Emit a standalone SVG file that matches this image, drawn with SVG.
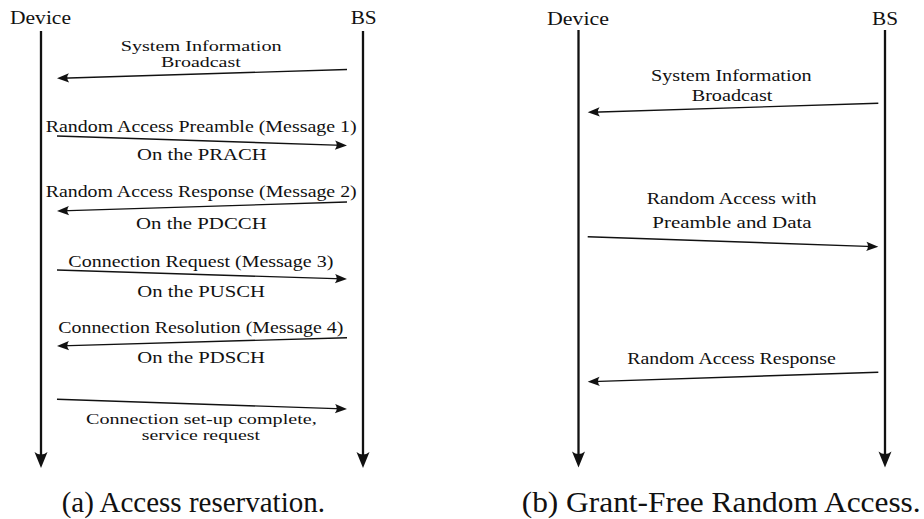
<svg xmlns="http://www.w3.org/2000/svg" width="924" height="519" viewBox="0 0 924 519">
  <defs>
    <style>
      text { font-family: "Liberation Serif", "Times New Roman", serif; fill: #111; }
      .actor { font-size: 19.5px; }
      .msg { font-size: 17px; }
      .msg2 { font-size: 14.3px; }
      .cap { font-size: 29px; }
      .life { stroke: #111; stroke-width: 2.3; fill: none; marker-end: url(#lifeHead); }
      .arrow { stroke: #111; stroke-width: 1.4; fill: none; marker-end: url(#msgHead); }
    </style>
    <!-- concave stealth-style heads; tip sits a few px beyond the path end -->
    <marker id="msgHead" markerUnits="userSpaceOnUse" viewBox="-14 -6 16 12" markerWidth="16" markerHeight="12" refX="-4" refY="0" orient="auto" overflow="visible">
      <path d="M0,0 L-12,-4.6 Q-8.5,0 -12,4.6 Z" fill="#111"/>
    </marker>
    <marker id="lifeHead" markerUnits="userSpaceOnUse" viewBox="-18 -8 20 16" markerWidth="20" markerHeight="16" refX="-6" refY="0" orient="auto" overflow="visible">
      <path d="M0,0 L-16,-6.5 Q-11,0 -16,6.5 Z" fill="#111"/>
    </marker>
  </defs>

  <rect width="924" height="519" fill="#fff"/>

  <!-- (a) four-step access reservation -->
  <g id="a-device">
    <text class="actor" x="10" y="23.5" textLength="61" lengthAdjust="spacingAndGlyphs">Device</text>
    <path class="life" d="M41,31 V462"/>
  </g>
  <g id="a-bs">
    <text class="actor" x="350.7" y="24" textLength="26" lengthAdjust="spacingAndGlyphs">BS</text>
    <path class="life" d="M363,31 V462"/>
  </g>

  <g id="a-messages">
    <path class="arrow" d="M347,69.5 L61,78.2"/>
    <text class="msg2" x="120.7" y="51" textLength="161" lengthAdjust="spacingAndGlyphs">System Information</text>
    <text class="msg2" x="161" y="67" textLength="79.7" lengthAdjust="spacingAndGlyphs">Broadcast</text>

    <path class="arrow" d="M57,136 L343,145.4"/>
    <text class="msg" x="45.7" y="132.3" textLength="311" lengthAdjust="spacingAndGlyphs">Random Access Preamble (Message 1)</text>
    <text class="msg" x="137" y="160" textLength="129.7" lengthAdjust="spacingAndGlyphs">On the PRACH</text>

    <path class="arrow" d="M347,202 L61,210.9"/>
    <text class="msg" x="45.7" y="197.3" textLength="311" lengthAdjust="spacingAndGlyphs">Random Access Response (Message 2)</text>
    <text class="msg" x="136" y="229" textLength="130.7" lengthAdjust="spacingAndGlyphs">On the PDCCH</text>

    <path class="arrow" d="M57,270 L343,278.9"/>
    <text class="msg" x="68.3" y="266.7" textLength="265" lengthAdjust="spacingAndGlyphs">Connection Request (Message 3)</text>
    <text class="msg" x="137.3" y="296.7" textLength="127.7" lengthAdjust="spacingAndGlyphs">On the PUSCH</text>

    <path class="arrow" d="M347,337.7 L61,345.9"/>
    <text class="msg" x="58.3" y="333.3" textLength="285" lengthAdjust="spacingAndGlyphs">Connection Resolution (Message 4)</text>
    <text class="msg" x="137.3" y="362.7" textLength="127.7" lengthAdjust="spacingAndGlyphs">On the PDSCH</text>

    <path class="arrow" d="M57,399.3 L343,408.9"/>
    <text class="msg2" x="86" y="424.3" textLength="230.7" lengthAdjust="spacingAndGlyphs">Connection set-up complete,</text>
    <text class="msg2" x="141.7" y="440.3" textLength="118.3" lengthAdjust="spacingAndGlyphs">service request</text>
  </g>

  <text class="cap" x="61.7" y="512" textLength="263.3" lengthAdjust="spacingAndGlyphs">(a) Access reservation.</text>

  <!-- (b) grant-free random access -->
  <g id="b-device">
    <text class="actor" x="547" y="25" textLength="62" lengthAdjust="spacingAndGlyphs">Device</text>
    <path class="life" d="M578.5,30 V461.5"/>
  </g>
  <g id="b-bs">
    <text class="actor" x="872" y="25" textLength="26" lengthAdjust="spacingAndGlyphs">BS</text>
    <path class="life" d="M885,30 V461.5"/>
  </g>

  <g id="b-messages">
    <path class="arrow" d="M878.3,103.3 L591.7,112.2"/>
    <text class="msg" x="651" y="81" textLength="160.7" lengthAdjust="spacingAndGlyphs">System Information</text>
    <text class="msg" x="691.7" y="101" textLength="80.7" lengthAdjust="spacingAndGlyphs">Broadcast</text>

    <path class="arrow" d="M587.7,236.7 L874.3,246.6"/>
    <text class="msg" x="646.7" y="204" textLength="170" lengthAdjust="spacingAndGlyphs">Random Access with</text>
    <text class="msg" x="652.3" y="227.5" textLength="159.3" lengthAdjust="spacingAndGlyphs">Preamble and Data</text>

    <path class="arrow" d="M878.3,372.3 L591.7,381.6"/>
    <text class="msg" x="627.3" y="364.3" textLength="208.4" lengthAdjust="spacingAndGlyphs">Random Access Response</text>
  </g>

  <text class="cap" x="521.7" y="512" textLength="399" lengthAdjust="spacingAndGlyphs">(b) Grant-Free Random Access.</text>
</svg>
